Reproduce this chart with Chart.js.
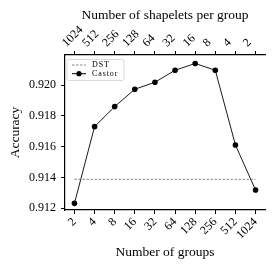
<!DOCTYPE html>
<html>
<head>
<meta charset="utf-8">
<script src="https://cdn.jsdelivr.net/npm/chart.js@4"></script>
<style>
  html, body { margin: 0; padding: 0; background: #fff; }
  #wrap { width: 280px; height: 269px; }
</style>
</head>
<body>
<div id="wrap"><canvas id="myChart" width="280" height="269"></canvas></div>
<script>
// data
var groups = [2, 4, 8, 16, 32, 64, 128, 256, 512, 1024];
var shapeletsPerGroup = [1024, 512, 256, 128, 64, 32, 16, 8, 4, 2];
var castorAcc = [0.91232, 0.91730, 0.91860, 0.91973, 0.92018, 0.92096, 0.92140, 0.92096, 0.91611, 0.91319];
var dstAcc = 0.91388;
var yTicks = [0.912, 0.914, 0.916, 0.918, 0.920];

var serif = "'Liberation Serif', 'DejaVu Serif', serif";

var castorPoints = groups.map(function (g, i) { return { x: Math.log2(g), y: castorAcc[i] }; });
var dstPoints = groups.map(function (g) { return { x: Math.log2(g), y: dstAcc }; });

// small framed legend inside the plot, top left
var boxLegend = {
    id: 'boxLegend',
    afterDraw: function (chart) {
        var c = chart.ctx, a = chart.chartArea;
        var x = a.left + 2, y = a.top + 4.5, w = 57, h = 21;
        c.save();
        c.strokeStyle = '#d0d0d0';
        c.lineWidth = 0.8;
        c.beginPath();
        c.roundRect(x, y, w, h, 2);
        c.fillStyle = 'rgba(255,255,255,0.8)';
        c.fill();
        c.stroke();
        // DST
        c.strokeStyle = '#555';
        c.lineWidth = 0.7;
        c.setLineDash([2.5, 1.5]);
        c.beginPath();
        c.moveTo(x + 5, y + 5.5); c.lineTo(x + 19, y + 5.5);
        c.stroke();
        c.setLineDash([]);
        // Castor
        c.strokeStyle = '#000';
        c.lineWidth = 1;
        c.beginPath();
        c.moveTo(x + 5, y + 14.2); c.lineTo(x + 19, y + 14.2);
        c.stroke();
        c.fillStyle = '#000';
        c.beginPath();
        c.arc(x + 12, y + 14.2, 2.6, 0, Math.PI * 2);
        c.fill();
        c.font = '8px ' + serif;
        c.letterSpacing = '0.9px';
        c.textBaseline = 'middle';
        c.fillText('DST', x + 25, y + 5.5);
        c.fillText('Castor', x + 25, y + 14.2);
        c.restore();
    }
};

var tickFont = { family: serif, size: 12 };
var titleFont = { family: serif, size: 13.5 };

var ctx = document.getElementById('myChart').getContext('2d');

var myChart = new Chart(ctx, {
    type: 'line',
    data: {
        datasets: [{
            label: 'DST',
            data: dstPoints,
            borderColor: '#555',
            borderWidth: 0.7,
            borderDash: [2.5, 1.5],
            pointRadius: 0,
            fill: false
        }, {
            label: 'Castor',
            data: castorPoints,
            borderColor: '#000',
            backgroundColor: '#000',
            borderWidth: 0.9,
            pointRadius: 2.8,
            pointBackgroundColor: '#000',
            pointBorderWidth: 0,
            fill: false
        }]
    },
    options: {
        responsive: false,
        animation: false,
        layout: { padding: { left: 0, right: 15, top: 0, bottom: 0 } },
        plugins: {
            legend: { display: false },
            tooltip: { enabled: false }
        },
        scales: {
            x: {
                type: 'linear',
                position: 'bottom',
                min: 0.53,
                max: 10.47,
                afterBuildTicks: function (s) { s.ticks = groups.map(function (g) { return { value: Math.log2(g) }; }); },
                afterFit: function (s) { s.height = 59; },
                ticks: {
                    callback: function (v) { return String(Math.pow(2, v)); },
                    autoSkip: false,
                    minRotation: 45, maxRotation: 45,
                    color: '#000',
                    padding: 1,
                    font: tickFont
                },
                grid: { drawOnChartArea: false, drawTicks: true, tickLength: 4, color: '#000', tickWidth: 1 },
                border: { display: true, color: '#000', width: 1.2 },
                title: { display: true, text: 'Number of groups', color: '#000', font: titleFont, padding: { top: 0, bottom: 8 } }
            },
            xTop: {
                type: 'linear',
                position: 'top',
                min: 0.53,
                max: 10.47,
                afterBuildTicks: function (s) { s.ticks = groups.map(function (g) { return { value: Math.log2(g) }; }); },
                afterFit: function (s) { s.height = 55; },
                ticks: {
                    callback: function (v) { return String(shapeletsPerGroup[groups.indexOf(Math.pow(2, v))]); },
                    autoSkip: false,
                    minRotation: 45, maxRotation: 45,
                    color: '#000',
                    padding: 1,
                    font: tickFont
                },
                grid: { drawOnChartArea: false, drawTicks: true, tickLength: 4, color: '#000', tickWidth: 1 },
                border: { display: true, color: '#000', width: 1.2 },
                title: { display: true, text: 'Number of shapelets per group', color: '#000', font: titleFont, padding: { top: 7, bottom: 0 } }
            },
            y: {
                min: 0.91189,
                max: 0.92195,
                afterBuildTicks: function (s) { s.ticks = yTicks.map(function (v) { return { value: v }; }); },
                afterFit: function (s) { s.width = 65; },
                ticks: {
                    callback: function (v) { return v.toFixed(3); },
                    color: '#000',
                    padding: 5,
                    font: tickFont
                },
                grid: { drawOnChartArea: false, drawTicks: true, tickLength: 4, color: '#000', tickWidth: 1 },
                border: { display: true, color: '#000', width: 1.2 },
                title: { display: true, text: 'Accuracy', color: '#000', font: titleFont, padding: { top: 7, bottom: 0 } }
            }
        }
    },
    plugins: [boxLegend]
});
</script>
</body>
</html>
